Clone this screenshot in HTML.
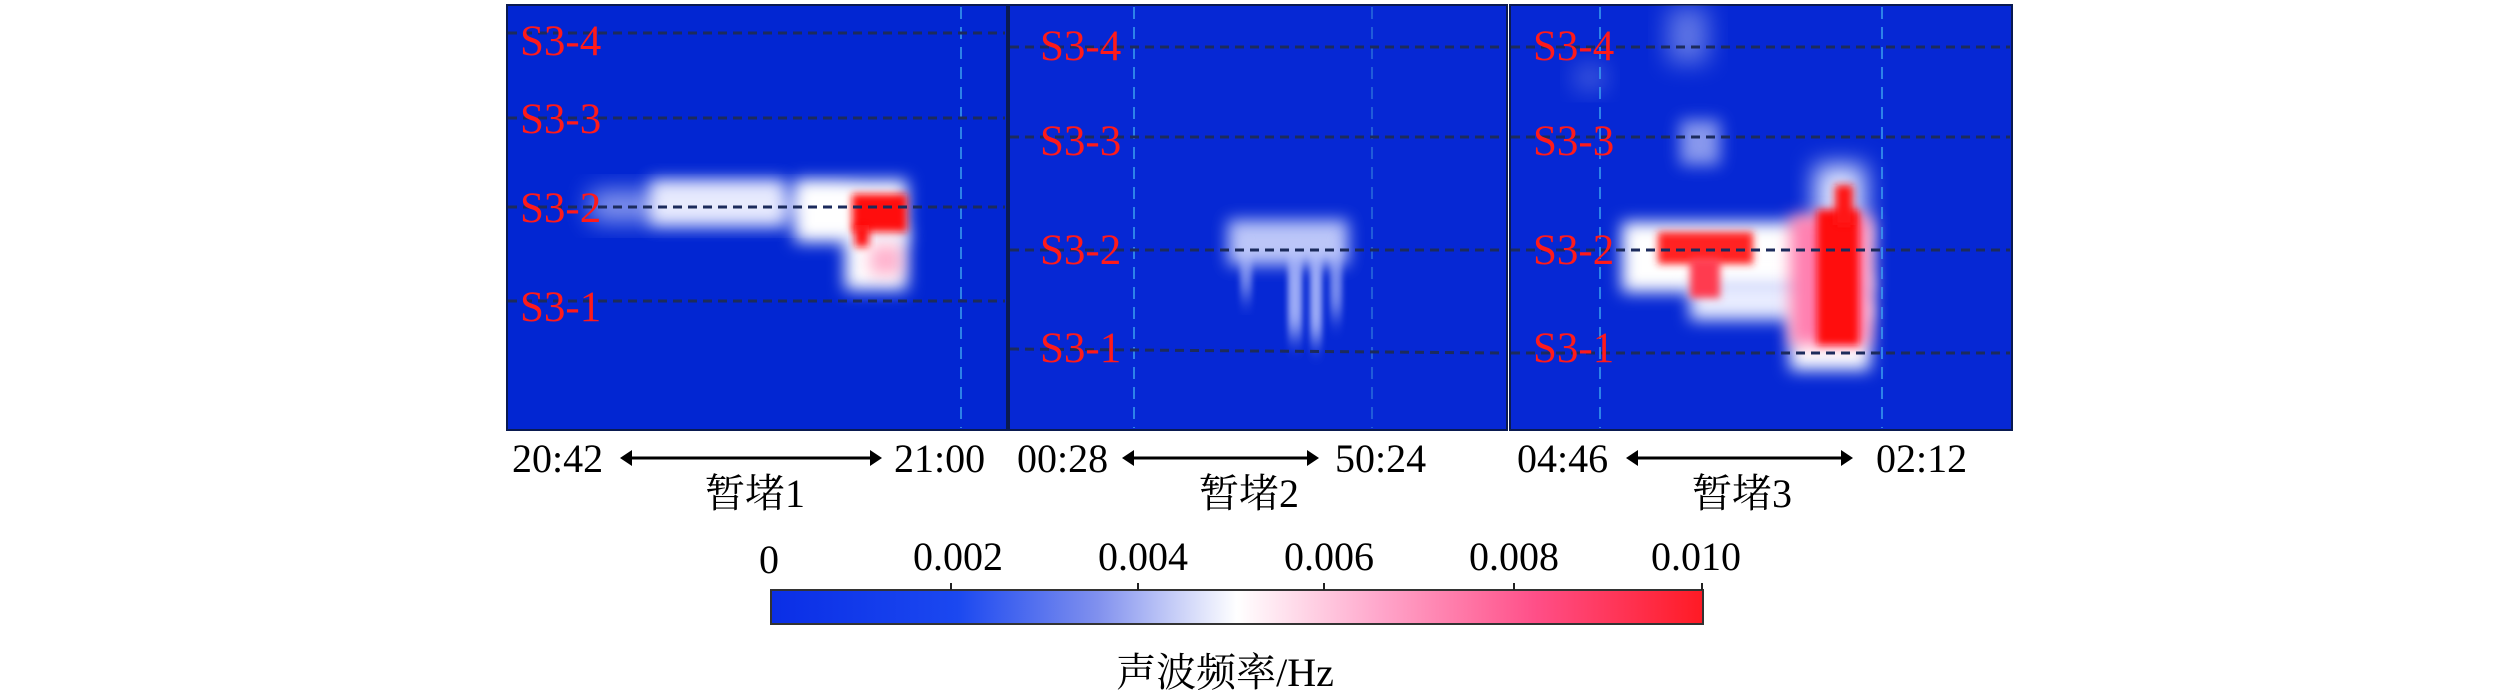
<!DOCTYPE html>
<html><head><meta charset="utf-8"><style>
html,body{margin:0;padding:0;background:#fff;}
svg{display:block;}
text{font-family:"Liberation Serif","Noto Serif CJK SC",serif;}
</style></head><body>
<svg width="2520" height="696" viewBox="0 0 2520 696" xmlns="http://www.w3.org/2000/svg">
<defs>
<filter id="b8" x="-50%" y="-50%" width="200%" height="200%"><feGaussianBlur stdDeviation="12"/></filter>
<filter id="b5" x="-50%" y="-50%" width="200%" height="200%"><feGaussianBlur stdDeviation="8"/></filter>
<filter id="b3" x="-50%" y="-50%" width="200%" height="200%"><feGaussianBlur stdDeviation="4"/></filter>
<filter id="vb" x="-50%" y="-50%" width="200%" height="200%"><feGaussianBlur stdDeviation="3 12"/></filter>
<linearGradient id="cb" x1="0" x2="1" y1="0" y2="0">
<stop offset="0" stop-color="#0a2ee6"/><stop offset="0.2" stop-color="#1b48f0"/>
<stop offset="0.35" stop-color="#8090ee"/><stop offset="0.5" stop-color="#ffffff"/>
<stop offset="0.65" stop-color="#ffa8cc"/><stop offset="0.82" stop-color="#ff4f88"/>
<stop offset="1" stop-color="#ff1a24"/></linearGradient>
<clipPath id="c1"><rect x="507" y="5" width="500" height="425"/></clipPath>
<clipPath id="c2"><rect x="1009" y="5" width="498" height="425"/></clipPath>
<clipPath id="c3"><rect x="1510" y="5" width="502" height="425"/></clipPath>
</defs>

<!-- Panel 1 -->
<rect x="507" y="5" width="500" height="425" fill="#0226d2" stroke="#0a1a50" stroke-width="2"/>
<g clip-path="url(#c1)">
<rect x="590" y="190" width="260" height="32" fill="#a8b4f4" filter="url(#b8)" opacity="0.8"/>
<rect x="650" y="180" width="135" height="45" fill="#eef0ff" filter="url(#b5)" opacity="0.95"/>
<rect x="795" y="180" width="112" height="62" fill="#fff" filter="url(#b5)"/>
<rect x="845" y="230" width="62" height="60" fill="#fff" filter="url(#b5)"/>
<rect x="852" y="194" width="55" height="38" fill="#ff1010" filter="url(#b3)"/>
<rect x="855" y="225" width="14" height="22" fill="#ff1010" filter="url(#b3)"/>
<rect x="870" y="245" width="32" height="30" fill="#ff90b8" filter="url(#b5)" opacity="0.7"/>
</g>
<line x1="961" y1="7" x2="961" y2="428" stroke="#3aa0f0" stroke-width="1.5" stroke-dasharray="12 8"/>
<g stroke="#1c2b5c" stroke-width="3" stroke-dasharray="9 6">
<line x1="508" y1="33" x2="1005" y2="33"/><line x1="508" y1="118" x2="1005" y2="118"/>
<line x1="508" y1="207" x2="1005" y2="207"/><line x1="508" y1="301" x2="1005" y2="301"/>
</g>
<g fill="#ff1a1a" font-size="43">
<text x="520" y="55">S3-4</text><text x="520" y="133">S3-3</text>
<text x="520" y="222">S3-2</text><text x="520" y="321">S3-1</text>
</g>

<!-- Panel 2 -->
<rect x="1009" y="5" width="498" height="425" fill="#0628d4" stroke="#0a1a50" stroke-width="2"/>
<g clip-path="url(#c2)">
<rect x="1228" y="220" width="120" height="45" fill="#dce2ff" filter="url(#b5)" opacity="0.85"/>
<rect x="1288" y="255" width="14" height="80" fill="#c0caff" filter="url(#vb)" opacity="0.8"/>
<rect x="1310" y="255" width="12" height="85" fill="#c0caff" filter="url(#vb)" opacity="0.8"/>
<rect x="1330" y="255" width="12" height="60" fill="#c0caff" filter="url(#vb)" opacity="0.6"/>
<rect x="1240" y="255" width="12" height="40" fill="#c0caff" filter="url(#vb)" opacity="0.6"/>
</g>
<line x1="1134" y1="7" x2="1134" y2="428" stroke="#3aa0f0" stroke-width="1.5" stroke-dasharray="12 8"/>
<line x1="1372" y1="7" x2="1372" y2="428" stroke="#3a90e0" stroke-width="1" stroke-dasharray="12 8"/>
<g stroke="#1c2b5c" stroke-width="3" stroke-dasharray="9 6">
<line x1="1010" y1="47" x2="1505" y2="47"/><line x1="1010" y1="137" x2="1505" y2="137"/>
<line x1="1010" y1="250" x2="1505" y2="250"/><line x1="1010" y1="349" x2="1505" y2="353"/>
</g>
<g fill="#ff1a1a" font-size="43">
<text x="1040" y="60">S3-4</text><text x="1040" y="155">S3-3</text>
<text x="1040" y="264">S3-2</text><text x="1040" y="362">S3-1</text>
</g>

<!-- Panel 3 -->
<rect x="1510" y="5" width="502" height="425" fill="#0628d4" stroke="#0a1a50" stroke-width="2"/>
<g clip-path="url(#c3)">
<rect x="1668" y="8" width="40" height="55" fill="#9aa8f0" filter="url(#b8)" opacity="0.6"/>
<rect x="1575" y="65" width="30" height="25" fill="#8090e8" filter="url(#b8)" opacity="0.5"/>
<rect x="1680" y="120" width="40" height="45" fill="#c0c8f8" filter="url(#b5)" opacity="0.7"/>
<rect x="1622" y="222" width="250" height="70" fill="#fff" filter="url(#b5)"/>
<rect x="1690" y="280" width="180" height="40" fill="#e8ecff" filter="url(#b5)"/>
<rect x="1790" y="300" width="80" height="70" fill="#fff" filter="url(#b5)"/>
<rect x="1815" y="165" width="50" height="70" fill="#e0e6ff" filter="url(#b8)"/>
<rect x="1658" y="232" width="95" height="32" fill="#ff2020" filter="url(#b3)"/>
<rect x="1690" y="258" width="30" height="40" fill="#ff3a50" filter="url(#b3)"/>
<rect x="1790" y="215" width="80" height="130" fill="#ff80b0" filter="url(#b5)"/>
<rect x="1817" y="210" width="42" height="135" fill="#ff0d0d" filter="url(#b3)"/>
<rect x="1835" y="185" width="18" height="40" fill="#ff1515" filter="url(#b3)"/>
</g>
<line x1="1600" y1="7" x2="1600" y2="428" stroke="#3aa0f0" stroke-width="1.5" stroke-dasharray="12 8"/>
<line x1="1882" y1="7" x2="1882" y2="428" stroke="#3aa0f0" stroke-width="1.5" stroke-dasharray="12 8"/>
<g stroke="#1c2b5c" stroke-width="3" stroke-dasharray="9 6">
<line x1="1511" y1="47" x2="2010" y2="47"/><line x1="1511" y1="137" x2="2010" y2="137"/>
<line x1="1511" y1="250" x2="2010" y2="250"/><line x1="1511" y1="353" x2="2010" y2="353"/>
</g>
<g fill="#ff1a1a" font-size="43">
<text x="1533" y="60">S3-4</text><text x="1533" y="155">S3-3</text>
<text x="1533" y="264">S3-2</text><text x="1533" y="362">S3-1</text>
</g>

<!-- Time labels -->
<g font-size="40" fill="#000">
<text x="512" y="472">20:42</text><text x="894" y="472">21:00</text>
<text x="1017" y="472">00:28</text><text x="1335" y="472">50:24</text>
<text x="1517" y="472">04:46</text><text x="1876" y="472">02:12</text>
<text x="755" y="507" text-anchor="middle">暂堵1</text>
<text x="1249" y="507" text-anchor="middle">暂堵2</text>
<text x="1742" y="507" text-anchor="middle">暂堵3</text>
</g>
<g stroke="#000" stroke-width="3">
<line x1="630" y1="458" x2="872" y2="458"/>
<line x1="1132" y1="458" x2="1309" y2="458"/>
<line x1="1636" y1="458" x2="1843" y2="458"/>
</g>
<g fill="#000">
<polygon points="620,458 632,450 632,466"/><polygon points="882,458 870,450 870,466"/>
<polygon points="1122,458 1134,450 1134,466"/><polygon points="1319,458 1307,450 1307,466"/>
<polygon points="1626,458 1638,450 1638,466"/><polygon points="1853,458 1841,450 1841,466"/>
</g>

<!-- Colorbar -->
<rect x="771" y="590" width="932" height="34" fill="url(#cb)" stroke="#333" stroke-width="2"/>
<g stroke="#222" stroke-width="2">
<line x1="951" y1="583" x2="951" y2="590"/><line x1="1138" y1="583" x2="1138" y2="590"/>
<line x1="1324" y1="583" x2="1324" y2="590"/><line x1="1514" y1="583" x2="1514" y2="590"/>
<line x1="1702" y1="583" x2="1702" y2="590"/>
</g>
<g font-size="40" fill="#000" text-anchor="middle">
<text x="769" y="573">0</text><text x="958" y="570">0.002</text><text x="1143" y="570">0.004</text>
<text x="1329" y="570">0.006</text><text x="1514" y="570">0.008</text><text x="1696" y="570">0.010</text>
<text x="1225" y="686">声波频率/Hz</text>
</g>
</svg>
</body></html>
